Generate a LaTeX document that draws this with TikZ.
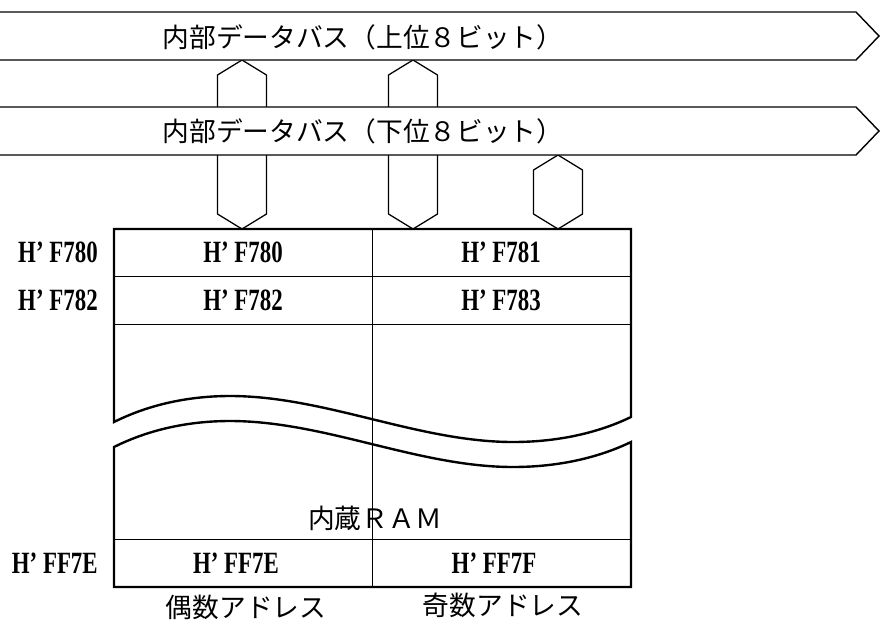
\documentclass[tikz,border=0pt]{standalone}
\usepackage{fontspec}
\usepackage{tikz}
\usetikzlibrary{calc}

\newfontfamily\jpfont{Noto Sans CJK JP}
\newfontfamily\addrfont{Liberation Serif}[FakeStretch=0.74]

\begin{document}
\begin{tikzpicture}[
    x=0.025cm, y=-0.025cm,
    bus/.style={draw, line width=1pt, fill=white, line join=miter},
    busarrow/.style={draw, line width=0.9pt, fill=white},
    ramedge/.style={draw, line width=1.7pt, line join=miter},
    ramline/.style={draw, line width=0.6pt},
    jptext/.style={font=\jpfont\fontsize{19}{19}\selectfont, inner sep=0pt},
    addr/.style={font=\addrfont\bfseries\fontsize{22}{22}\selectfont, inner sep=0pt}
]
\useasboundingbox (0,0) rectangle (880,626);

% Anchor points of the bus connectors
\coordinate (ub1) at (242,60);
\coordinate (ub2) at (413,60);
\coordinate (lb3) at (558,155);
\coordinate (rt1) at (242,229);
\coordinate (rt2) at (413,229);
\coordinate (rt3) at (558,229);

% Connectors (drawn first, the buses cover them)
\draw[busarrow] (ub1) -- ++(24.5,15) -- ($(rt1)+(24.5,-15)$) -- (rt1) -- ++(-24.5,-15) -- ($(ub1)+(-24.5,15)$) -- cycle;
\draw[busarrow] (ub2) -- ++(24.5,15) -- ($(rt2)+(24.5,-15)$) -- (rt2) -- ++(-24.5,-15) -- ($(ub2)+(-24.5,15)$) -- cycle;
\draw[busarrow] (lb3) -- ++(24.5,15) -- ($(rt3)+(24.5,-15)$) -- (rt3) -- ++(-24.5,-15) -- ($(lb3)+(-24.5,15)$) -- cycle;

% Buses
\draw[bus] (0,12) -- (856,12) -- (879,36) -- (856,60) -- (0,60);
\draw[bus] (0,107) -- (856,107) -- (879,131) -- (856,155) -- (0,155);
\node[jptext] (UpperBus) at (363,37) {内部データバス（上位８ビット）};
\node[jptext] (LowerBus) at (363,131) {内部データバス（下位８ビット）};

% RAM
\draw[ramline] (372,229) -- (372,587);
\draw[ramline] (114,276) -- (631,276);
\draw[ramline] (114,324) -- (631,324);
\draw[ramline] (114,539) -- (631,539);
\draw[ramedge] (631,417) -- (631,229) -- (114,229) -- (114,422)
    .. controls (150,404) and (190,396) .. (230,396)
    .. controls (325,396) and (418,442) .. (513,442)
    .. controls (560,442) and (600,432) .. (631,417) -- cycle;
\draw[ramedge] (631,442) -- (631,587) -- (114,587) -- (114,447)
    .. controls (150,429) and (190,421) .. (230,421)
    .. controls (325,421) and (418,467) .. (513,467)
    .. controls (560,467) and (600,457) .. (631,442) -- cycle;

% Cells
\node[addr] (C780) at (243,252.5) {H’ F780};
\node[addr] (C781) at (501,252.5) {H’ F781};
\node[addr] (C782) at (243,300) {H’ F782};
\node[addr] (C783) at (501,300) {H’ F783};
\node[addr] (CFF7E) at (236,563) {H’ FF7E};
\node[addr] (CFF7F) at (494,563) {H’ FF7F};
\node[jptext] (Ram) at (375,518) {内蔵ＲＡＭ};

% Addresses
\node[addr, anchor=east] (A780) at (98,252.5) {H’ F780};
\node[addr, anchor=east] (A782) at (98,300) {H’ F782};
\node[addr, anchor=east] (AFF7E) at (98,563) {H’ FF7E};

% Columns
\node[jptext] (Even) at (246,607) {偶数アドレス};
\node[jptext] (Odd) at (503,605) {奇数アドレス};

\end{tikzpicture}
\end{document}
